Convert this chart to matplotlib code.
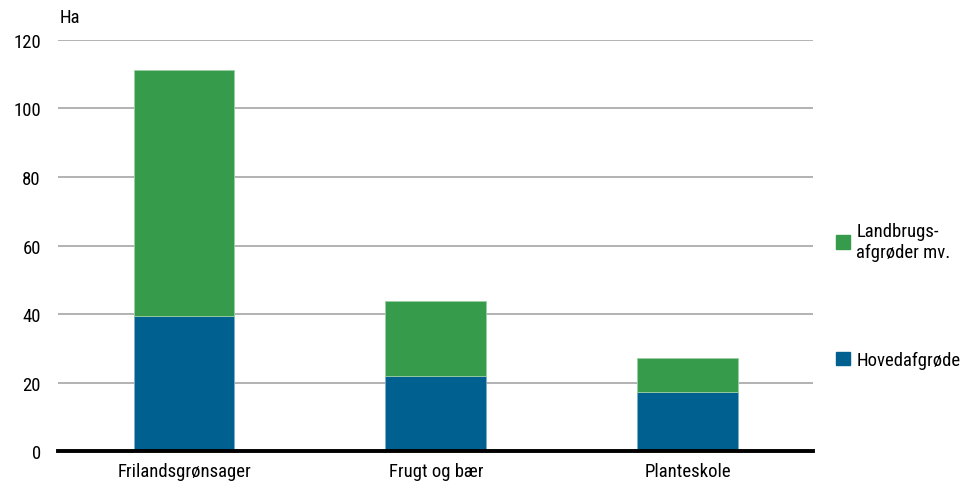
import matplotlib
matplotlib.use("Agg")
import numpy as np
import matplotlib.pyplot as plt
from matplotlib.patches import Patch

plt.rcParams['font.family'] = ['Roboto Condensed', 'Roboto', 'DejaVu Sans']

categories = ['Frilandsgrønsager', 'Frugt og bær', 'Planteskole']
hovedafgrode = [39.5, 22.0, 17.3]
landbrug_total = [111.2, 43.7, 27.1]
landbrug = [t - h for t, h in zip(landbrug_total, hovedafgrode)]

blue = '#006090'
green = '#369b4a'
fs = 13.5

fig = plt.figure(figsize=(9.62, 4.85), dpi=100)
ax = fig.add_axes([0.0606, 0.0674, 0.7848, 0.8487])

x = np.arange(len(categories))
ax.bar(x, hovedafgrode, width=0.4, color=blue, edgecolor='#7fb0c8', linewidth=0.6, zorder=3)
ax.bar(x, landbrug, width=0.4, bottom=hovedafgrode, color=green, edgecolor='#9ccfa4', linewidth=0.6, zorder=3)

ax.set_xlim(-0.5, 2.5)
ax.set_ylim(0, 120)
ax.set_yticks(np.arange(0, 121, 20))
ax.set_xticks(x)
ax.set_xticklabels(categories, fontsize=fs)
ax.tick_params(axis='y', labelsize=fs, length=0, pad=12.5)
ax.tick_params(axis='x', length=0, pad=8)
ax.grid(axis='y', color='#a6a6a6', linewidth=1.2, zorder=0)
for s in ['top', 'right', 'left']:
    ax.spines[s].set_visible(False)
ax.spines['bottom'].set_linewidth(2.8)
ax.spines['bottom'].set_color('black')
ax.spines['bottom'].set_zorder(4)

fig.text(0.062, 0.962, 'Ha', fontsize=fs, va='center', ha='left')

fig.legend(handles=[Patch(color=green)], labels=['Landbrugs-\nafgrøder mv.'],
           loc='center left', bbox_to_anchor=(0.852, 0.5), frameon=False,
           fontsize=fs, handlelength=0.7, handleheight=0.7, handletextpad=0.35,
           labelspacing=0.1)
fig.legend(handles=[Patch(color=blue)], labels=['Hovedafgrøde'],
           loc='center left', bbox_to_anchor=(0.852, 0.255), frameon=False,
           fontsize=fs, handlelength=0.7, handleheight=0.7, handletextpad=0.35)

fig.savefig('out.png', dpi=100)
